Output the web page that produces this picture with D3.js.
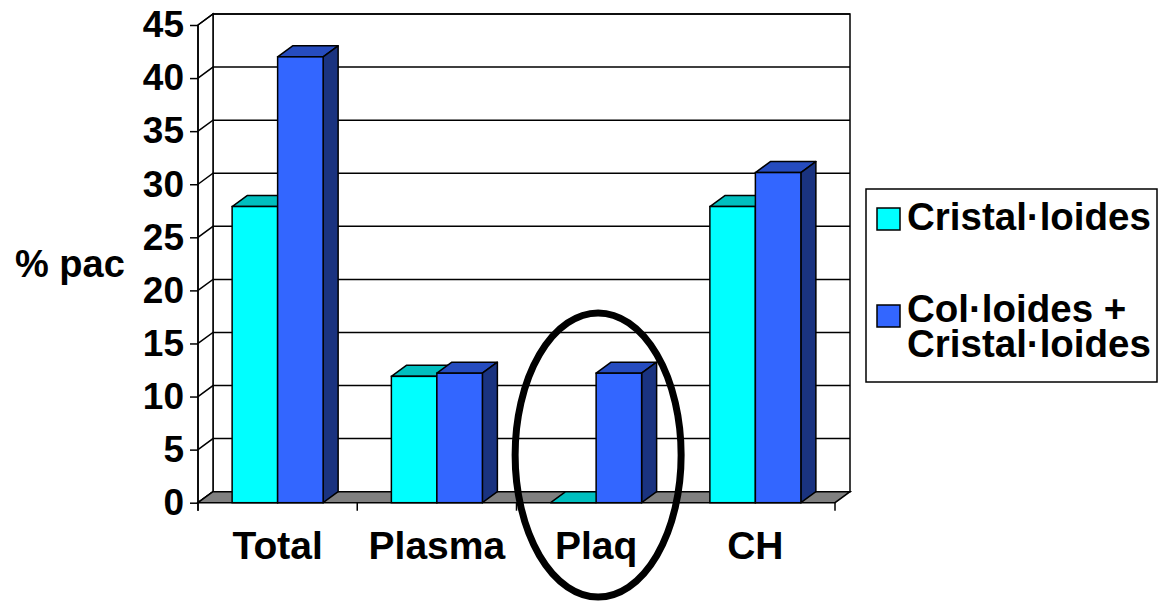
<!DOCTYPE html>
<html>
<head>
<meta charset="utf-8">
<script src="https://cdn.jsdelivr.net/npm/d3@7"></script>
<style>
  body { margin: 0; background: #fff; }
  text { font-family: "Liberation Sans", Arial, sans-serif; font-weight: bold; fill: #000; }
</style>
</head>
<body>
<script>
// chart data
var categories = ["Total", "Plasma", "Plaq", "CH"];
var seriesNames = ["Cristal·loides", "Col·loides + Cristal·loides"];
var cristalloides = [27.9, 11.9, 0, 27.9];
var colloides = [42, 12.2, 12.2, 31.1];
var yTicks = [0, 5, 10, 15, 20, 25, 30, 35, 40, 45];

var width = 1158, height = 601;
var dx = 15, dy = -11; // depth of the 3d box

var svg = d3.select("body").append("svg").attr("width", width).attr("height", height);

var y = d3.scaleLinear().domain([0, 45]).range([502.7, 25]);
var x = d3.scaleBand().domain(categories).range([198, 835]);
var xs = d3.scaleBand().domain([0, 1]).range([0, x.bandwidth()]).paddingInner(0).paddingOuter(0.75);

var colors = [
  {front: "#00FFFF", top: "#00BFBF", side: "#008080"},
  {front: "#3366FF", top: "#264CBF", side: "#1A3380"}
];

var x0 = x.range()[0], x1 = x.range()[1];

// walls
var walls = svg.append("g");
walls.append("path")
  .attr("d", "M" + (x0 + dx) + "," + (y(45) + dy) + "H" + (x1 + dx) + "V" + (y(0) + dy) + "H" + (x0 + dx) + "Z")
  .attr("fill", "#fff").attr("stroke", "#000").attr("stroke-width", 1.5);
walls.append("path")
  .attr("d", "M" + x0 + "," + y(45) + "L" + (x0 + dx) + "," + (y(45) + dy) + "V" + (y(0) + dy) + "L" + x0 + "," + y(0) + "Z")
  .attr("fill", "#fff").attr("stroke", "#000").attr("stroke-width", 1.5);

// gridlines on back and side walls
walls.selectAll(".grid").data(yTicks).enter().append("path")
  .attr("d", function(d){
    return "M" + x0 + "," + y(d) + "L" + (x0 + dx) + "," + (y(d) + dy) + "H" + (x1 + dx);
  })
  .attr("fill", "none").attr("stroke", "#000").attr("stroke-width", 1.5);

// floor
svg.append("path")
  .attr("d", "M" + x0 + "," + y(0) + "L" + (x0 + dx) + "," + (y(0) + dy) + "H" + (x1 + dx) + "L" + x1 + "," + y(0) + "Z")
  .attr("fill", "#808080").attr("stroke", "#000").attr("stroke-width", 1.5);

// y axis
var yAxis = d3.axisLeft(y).tickValues(yTicks).tickSize(8).tickPadding(6);
var ya = svg.append("g").attr("transform", "translate(" + x0 + ",0)").call(yAxis);
ya.select(".domain").attr("d", "M0," + y(45) + "V" + (y(0) + 8)).attr("stroke", "#000").attr("stroke-width", 1.5);
ya.selectAll(".tick line").attr("stroke", "#000").attr("stroke-width", 1.5);
ya.selectAll(".tick text").style("font-size", "37px").style("font-family", "Liberation Sans, Arial, sans-serif").style("font-weight", "bold").attr("fill", "#000");

// x axis
var xAxis = d3.axisBottom(x).tickSize(0).tickPadding(0);
var xa = svg.append("g").attr("transform", "translate(0," + y(0) + ")").call(xAxis);
xa.select(".domain").remove();
xa.selectAll(".tick text").attr("y", 56).attr("dy", null)
  .style("font-size", "39px").style("font-family", "Liberation Sans, Arial, sans-serif").style("font-weight", "bold").attr("fill", "#000");
xa.selectAll(".sep").data(categories.concat(["end"])).enter().append("line")
  .attr("class", "sep")
  .attr("x1", function(d, i){ return x0 + i * x.step(); })
  .attr("x2", function(d, i){ return x0 + i * x.step(); })
  .attr("y1", 0).attr("y2", 8)
  .attr("stroke", "#000").attr("stroke-width", 1.5);

// bars
var bars = [];
categories.forEach(function(c, i){
  [cristalloides[i], colloides[i]].forEach(function(v, s){
    bars.push({cat: c, s: s, v: v});
  });
});

var bar = svg.append("g").selectAll("g").data(bars).enter().append("g");
function bx(d){ return x(d.cat) + xs(d.s); }
var bw = xs.bandwidth();

bar.append("path") // top
  .attr("d", function(d){
    var l = bx(d), t = y(d.v);
    return "M" + l + "," + t + "L" + (l + dx) + "," + (t + dy) + "H" + (l + bw + dx) + "L" + (l + bw) + "," + t + "Z";
  })
  .attr("fill", function(d){ return colors[d.s].top; })
  .attr("stroke", "#000").attr("stroke-width", 1.5).attr("stroke-linejoin", "round");
bar.filter(function(d){ return d.v > 0; }).append("path") // side
  .attr("d", function(d){
    var r = bx(d) + bw, t = y(d.v), b = y(0);
    return "M" + r + "," + t + "L" + (r + dx) + "," + (t + dy) + "V" + (b + dy) + "L" + r + "," + b + "Z";
  })
  .attr("fill", function(d){ return colors[d.s].side; })
  .attr("stroke", "#000").attr("stroke-width", 1.5).attr("stroke-linejoin", "round");
bar.filter(function(d){ return d.v > 0; }).append("rect") // front
  .attr("x", bx)
  .attr("y", function(d){ return y(d.v); })
  .attr("width", bw)
  .attr("height", function(d){ return y(0) - y(d.v); })
  .attr("fill", function(d){ return colors[d.s].front; })
  .attr("stroke", "#000").attr("stroke-width", 1.5);

// y title
svg.append("text").attr("x", 15).attr("y", 277).style("font-size", "38px").text("% pac");

// legend
var lg = svg.append("g");
lg.append("rect").attr("x", 866).attr("y", 189).attr("width", 291).attr("height", 193)
  .attr("fill", "#fff").attr("stroke", "#000").attr("stroke-width", 1.5);
var legendRows = [
  {s: 0, sy: 208, lines: [seriesNames[0]], base: 230},
  {s: 1, sy: 305, lines: ["Col·loides +", "Cristal·loides"], base: 322}
];
legendRows.forEach(function(r){
  lg.append("rect").attr("x", 877).attr("y", r.sy).attr("width", 23).attr("height", 22)
    .attr("fill", colors[r.s].front).attr("stroke", "#000").attr("stroke-width", 1.5);
  var t = lg.append("text").attr("x", 907).attr("y", r.base).style("font-size", "38.5px");
  r.lines.forEach(function(line, k){
    t.append("tspan").attr("x", 907).attr("dy", k ? 35 : 0).text(line);
  });
});

// highlight ellipse around Plaq
svg.append("ellipse")
  .attr("cx", x("Plaq") + x.bandwidth() / 2 + 2).attr("cy", 455)
  .attr("rx", 83).attr("ry", 142)
  .attr("fill", "none").attr("stroke", "#000").attr("stroke-width", 7);
</script>
</body>
</html>
